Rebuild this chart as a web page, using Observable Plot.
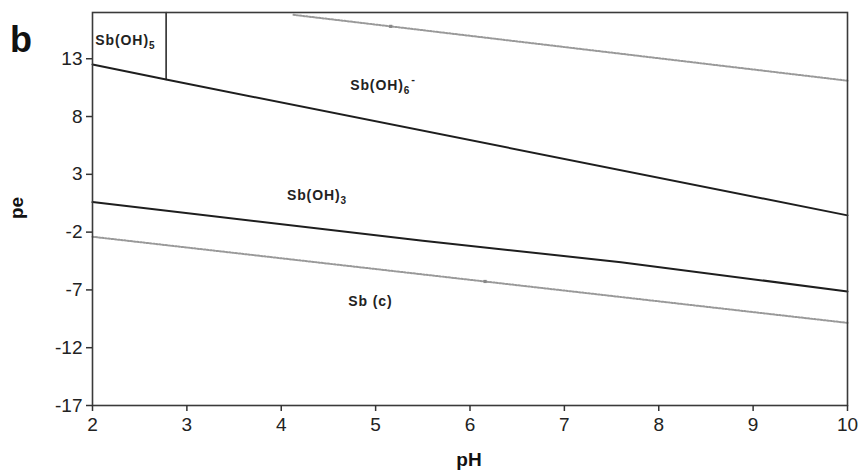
<!DOCTYPE html>
<html><head><meta charset="utf-8">
<script src="https://cdn.jsdelivr.net/npm/d3@7"></script>
<script src="https://cdn.jsdelivr.net/npm/@observablehq/plot@0.6"></script>
<style>
body{margin:0;background:#fff}
#chart svg{font-family:"Liberation Sans",Arial,sans-serif}
</style>
</head><body><div id="chart"></div>
<script>
// ---- data ----
const xTicks = [2, 3, 4, 5, 6, 7, 8, 9, 10];
const yTicks = [-17, -12, -7, -2, 3, 8, 13];
const upperBoundaryPH = [2, 2.78, 10];
const upperBoundaryPE = [12.5, 11.2, -0.55];
const lowerBoundaryPH = [2, 5.5, 7.6, 10];
const lowerBoundaryPE = [0.6, -2.75, -4.6, -7.13];
const verticalPH = [2.78, 2.78];
const verticalPE = [11.2, 17];
const waterUpperPH = [4.13, 10];
const waterUpperPE = [16.8, 11.1];
const waterLowerPH = [2, 10];
const waterLowerPE = [-2.4, -9.85];
const markerPH = [5.16, 6.16];
const markerPE = [15.8, -6.27];
const labelNames = ["Sb(OH)", "Sb(OH)", "Sb(OH)", "Sb (c)"];
const labelSubs = ["5", "6", "3", ""];
const labelSups = ["", "-", "", ""];
const labelPH = [2.03, 4.73, 4.06, 4.71];
const labelPE = [14.6, 10.7, 1.18, -8.0];
const panelLetter = "b";
const xLabel = "pH";
const yLabel = "pe";

const toRows = (xs, ys) => xs.map((x, i) => ({x, y: ys[i]}));
const labels = labelNames.map((t, i) => ({x: labelPH[i], y: labelPE[i], t, sub: labelSubs[i], sup: labelSups[i]}));

const dotted = {stroke: "#999", strokeWidth: 2, strokeDasharray: "1.6,1.6"};
const solid = {stroke: "#1e1e1e", strokeWidth: 2};

const plot = Plot.plot({
  width: 862, height: 470,
  marginLeft: 92, marginRight: 15, marginTop: 12, marginBottom: 65,
  style: {fontFamily: '"Liberation Sans", Arial, sans-serif', fontSize: "19px", color: "#222", background: "#fff"},
  x: {domain: [2, 10]},
  y: {domain: [-17, 17]},
  marks: [
    Plot.line(toRows(waterUpperPH, waterUpperPE), {x: "x", y: "y", ...dotted}),
    Plot.line(toRows(waterLowerPH, waterLowerPE), {x: "x", y: "y", ...dotted}),
    Plot.dot(toRows(markerPH, markerPE), {x: "x", y: "y", symbol: "square", r: 1.8, fill: "#888"}),
    Plot.line(toRows(upperBoundaryPH, upperBoundaryPE), {x: "x", y: "y", ...solid}),
    Plot.line(toRows(lowerBoundaryPH, lowerBoundaryPE), {x: "x", y: "y", ...solid}),
    Plot.line(toRows(verticalPH, verticalPE), {x: "x", y: "y", stroke: "#1e1e1e", strokeWidth: 1.5}),
    Plot.frame({stroke: "#3a3a3a", strokeWidth: 1.6}),
    Plot.axisX({ticks: xTicks, tickFormat: d => String(d), tickSize: 6, tickPadding: 6, fontSize: 19, label: null, stroke: "#333", strokeWidth: 1.5}),
    Plot.axisY({ticks: yTicks, tickFormat: d => String(d), tickSize: 6, tickPadding: 4, fontSize: 19, label: null, stroke: "#333", strokeWidth: 1.5}),
    Plot.text(labels, {x: "x", y: "y", text: "t", textAnchor: "start", fontSize: 14, fontWeight: "bold", fill: "#222", className: "region-labels"})
  ]
});

const svg = d3.select(plot);
svg.selectAll("g.region-labels text").each(function(_, i) {
  const d = labels[i];
  const el = d3.select(this);
  el.style("letter-spacing", "0.9px");
  el.text(null);
  el.append("tspan").text(d.t);
  if (d.sub) el.append("tspan").attr("dy", 4).attr("font-size", 10).text(d.sub);
  if (d.sup) el.append("tspan").attr("dy", -11).attr("dx", 1).attr("font-size", 11).text(d.sup);
});

svg.append("text").attr("x", 10).attr("y", 52).attr("text-anchor", "start").attr("font-size", 36).attr("font-weight", "bold").attr("fill", "#111").text(panelLetter);
svg.append("text").attr("transform", "translate(18,208) rotate(-90)").attr("text-anchor", "middle").attr("dominant-baseline", "middle")
  .attr("font-size", 19).attr("font-weight", "bold").attr("fill", "#111").text(yLabel);
svg.append("text").attr("x", 469).attr("y", 466).attr("text-anchor", "middle")
  .attr("font-size", 19).attr("font-weight", "bold").attr("fill", "#111").text(xLabel);

document.getElementById("chart").append(plot);
</script>
</body></html>
